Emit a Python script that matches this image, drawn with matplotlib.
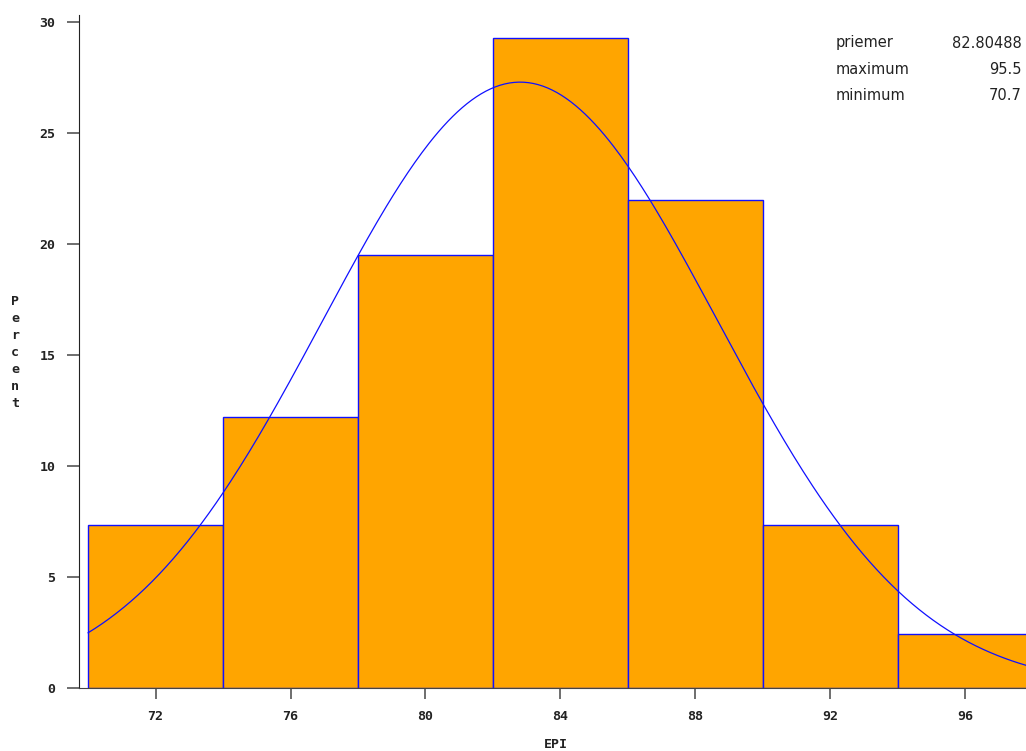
import numpy as np
import matplotlib.pyplot as plt

# histogram of EPI (percent of 41 observations), bins of width 4
bin_edges = [70, 74, 78, 82, 86, 90, 94, 98]
percent = [7.32, 12.20, 19.51, 29.27, 21.95, 7.32, 2.44]

# fitted normal curve
mean_epi = 82.80488
sd_epi = 5.85

stat_names = ['priemer', 'maximum', 'minimum']
stat_values = ['82.80488', '95.5', '70.7']

xticks = [72, 76, 80, 84, 88, 92, 96]
yticks = [0, 5, 10, 15, 20, 25, 30]

fig = plt.figure(figsize=(10.26, 7.51), dpi=100)
ax = fig.add_axes([79/1026, 1 - 688/751, 1 - 79/1026, (688 - 15)/751])

widths = np.diff(bin_edges)
ax.bar(bin_edges[:-1], percent, width=widths, align='edge',
       color='#FFA500', edgecolor='#1010ff', linewidth=1.0, zorder=2)

xs = np.linspace(bin_edges[0], 98, 400)
binw = widths[0]
ys = 100 * binw / (sd_epi * np.sqrt(2 * np.pi)) * np.exp(-0.5 * ((xs - mean_epi) / sd_epi) ** 2)
ax.plot(xs, ys, color='#1010ff', linewidth=0.9, zorder=3)

ax.set_xlim(69.73, 97.8)
ax.set_ylim(0, 30.3)
ax.set_xticks(xticks)
ax.set_yticks(yticks)

for s in ['top', 'right']:
    ax.spines[s].set_visible(False)
ax.spines['left'].set_color('#222222')
ax.spines['bottom'].set_color('#444444')
ax.spines['bottom'].set_bounds(69.73, 97.8)

tick_font = dict(family='DejaVu Sans Mono', weight='bold', size=9.5)
ax.tick_params(axis='x', direction='out', length=8, width=1.2, color='#555555', pad=8)
ax.tick_params(axis='y', direction='out', length=9, width=1.2, color='#555555', pad=8)
ax.set_xticklabels([str(t) for t in xticks], **tick_font, color='#222222')
ax.set_yticklabels([str(t) for t in yticks], **tick_font, color='#222222')

fig.text(556/1026, 1 - 745/751, 'EPI', ha='center', va='center', **tick_font, color='#222222')
fig.text(15/1026, 1 - 352/751, '\n'.join('Percent'), ha='center', va='center',
         linespacing=1.4, **tick_font, color='#222222')

for i, (n, v) in enumerate(zip(stat_names, stat_values)):
    yy = 1 - (43 + 26.5 * i) / 751
    fig.text(836/1026, yy, n, ha='left', va='center', family='DejaVu Sans',
             size=10.5, color='#222222')
    fig.text(1022/1026, yy, v, ha='right', va='center', family='DejaVu Sans',
             size=10.5, color='#222222')

fig.savefig('out.png', dpi=100)
